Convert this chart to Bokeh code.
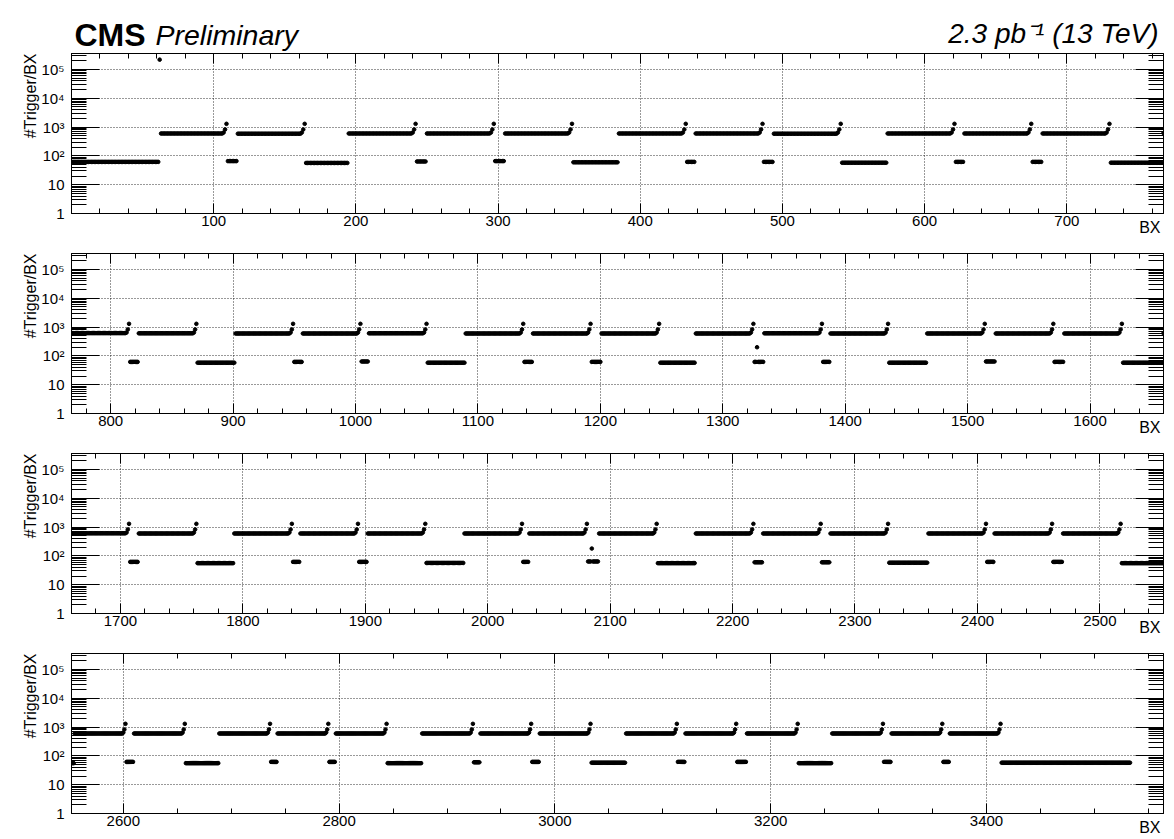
import math
from bokeh.plotting import figure
from bokeh.models import (Range1d, FixedTicker, Label, ColumnDataSource, LogAxis,
                          LinearAxis, CustomJSTickFormatter, Title)
from bokeh.layouts import column
from bokeh.embed import file_html
from bokeh.resources import INLINE

FONT = "Liberation Sans"

# ---------------- data ----------------
panel_lo = [0, 768, 1660, 2552]
panel_hi = [768, 1660, 2552, 3564]
panel_major = [
    [100, 200, 300, 400, 500, 600, 700],
    [800, 900, 1000, 1100, 1200, 1300, 1400, 1500, 1600],
    [1700, 1800, 1900, 2000, 2100, 2200, 2300, 2400, 2500],
    [2600, 2800, 3000, 3200, 3400],
]
panel_minor_step = [20, 20, 20, 50]

# first BX of every colliding-bunch train
train_first = [62, 117, 195, 250, 305, 385, 439, 494, 574, 628, 683,
               768, 823, 902, 957, 1011, 1090, 1145, 1201, 1278, 1334, 1388,
               1467, 1523, 1579,
               1660, 1715, 1793, 1847, 1902, 1981, 2034, 2091, 2170, 2225, 2280,
               2360, 2414, 2470,
               2555, 2610, 2689, 2743, 2797, 2877, 2931, 2986, 3066, 3121, 3178,
               3257, 3312, 3366]
train_len = 48
# plateau level of each train (#Trigger/BX)
train_level = [600, 590, 600, 600, 600, 600, 600, 590, 600, 600, 600,
               620, 610, 600, 600, 610, 600, 600, 600, 600, 610, 600,
               600, 600, 600,
               610, 600, 600, 600, 600, 600, 600, 600, 600, 600, 600,
               600, 600, 600,
               600, 600, 600, 600, 600, 600, 600, 600, 600, 600, 600,
               600, 600, 600]
# last three bunches of each train rise
train_tail = [650, 830, 1300]
# level of the empty BX before the first train and after each train
gap_level = [62,
             66, 57, 64, 66, 60, 62, 62, 58, 62, 62, 58,
             62, 58, 62, 64, 58, 62, 62, 58, 62, 62, 58,
             64, 62, 58,
             62, 56, 62, 62, 57, 62, 64, 56, 60, 60, 58,
             62, 62, 56,
             62, 56, 62, 62, 56, 60, 62, 58, 62, 62, 56,
             62, 62, 58]
noise_last_bx = 3533
spike_bx = [62, 1328, 2085]
spike_val = [2.2e5, 200, 180]

y_lo, y_hi = 1, 3.6e5
decades = [1, 10, 100, 1000, 10000, 100000]
decade_text = ["1", "10", "10\u00b2", "10\u00b3", "10\u2074", "10\u2075"]

# ---------------- build the per-BX series from the table ----------------
bx, val = [], []
prev_end = 0
for i, first in enumerate(train_first):
    for b in range(prev_end + 1, first):
        if b not in spike_bx:
            bx.append(b); val.append(gap_level[i])
    for k in range(train_len):
        b = first + k
        if b in spike_bx:
            continue
        t = k - (train_len - len(train_tail))
        bx.append(b)
        val.append(train_tail[t] if t >= 0 else train_level[i])
    prev_end = first + train_len - 1
for b in range(prev_end + 1, noise_last_bx + 1):
    if b not in spike_bx:
        bx.append(b); val.append(gap_level[-1])
bx += spike_bx
val += spike_val

y_minor = [k * 10 ** n for n in range(6) for k in range(2, 10) if k * 10 ** n <= y_hi]
blank = CustomJSTickFormatter(code="return ''")

W = 1174
LEFT, RIGHT = 71, 11
FRAME_W = W - LEFT - RIGHT
FRAME_H = 160

# ---------------- header with the CMS texts ----------------
HEAD_H = 52
head = figure(frame_width=FRAME_W, frame_height=HEAD_H, x_range=Range1d(LEFT, W - RIGHT),
              y_range=Range1d(HEAD_H, 0), output_backend="svg", toolbar_location=None,
              x_axis_location=None, y_axis_location=None,
              min_border_left=LEFT, min_border_right=RIGHT, min_border_top=0,
              min_border_bottom=0)
head.outline_line_color = None
head.grid.visible = False
head.add_layout(Label(x=74, y=34, text="CMS", text_align="left", text_baseline="alphabetic",
                      text_font=FONT, text_font_size="32px", text_font_style="bold",
                      text_color="black"))
head.add_layout(Label(x=155, y=34, text="Preliminary", text_align="left",
                      text_baseline="alphabetic", text_font=FONT, text_font_size="28.5px",
                      text_font_style="italic", text_color="black"))
head.add_layout(Label(x=1158, y=33, text="2.3 pb\u207b\u00b9 (13 TeV)", text_align="right",
                      text_baseline="alphabetic", text_font=FONT, text_font_size="28px",
                      text_font_style="italic", text_color="black"))

figs = [head]
for j in range(4):
    lo, hi = panel_lo[j], panel_hi[j]
    top = 1 if j == 0 else 13
    bottom = 26 if j == 3 else 27
    p = figure(frame_width=FRAME_W, frame_height=FRAME_H,
               x_range=Range1d(lo, hi), y_range=Range1d(y_lo, y_hi),
               y_axis_type="log", output_backend="svg", toolbar_location=None,
               min_border_left=LEFT, min_border_right=RIGHT,
               min_border_top=top, min_border_bottom=bottom)
    p.background_fill_color = "white"
    p.border_fill_color = "white"
    p.outline_line_color = "black"
    p.outline_line_width = 1

    step = panel_minor_step[j]
    majors = panel_major[j]
    minors = [v for v in range(lo - lo % step, hi + 1, step) if v not in majors and lo <= v <= hi]
    xt = FixedTicker(ticks=majors, minor_ticks=minors)
    yt = FixedTicker(ticks=decades, minor_ticks=y_minor)

    xa = p.xaxis[0]
    xa.ticker = xt
    xa.major_tick_in = 10
    xa.major_tick_out = 0
    xa.minor_tick_in = 5
    xa.minor_tick_out = 0
    xa.major_label_standoff = 2
    xa.major_label_text_font = FONT
    xa.major_label_text_font_size = "15px"
    xa.major_label_text_color = "black"
    xa.axis_line_color = "black"

    ya = p.yaxis[0]
    ya.ticker = yt
    ya.major_label_overrides = {d: t for d, t in zip(decades, decade_text)}
    ya.major_tick_in = 28
    ya.major_tick_out = 0
    ya.minor_tick_in = 15
    ya.minor_tick_out = 0
    ya.major_label_standoff = 7
    ya.major_label_text_font = FONT
    ya.major_label_text_font_size = "15px"
    ya.major_label_text_color = "black"
    ya.axis_line_color = "black"

    # axis titles (ROOT style: placed at the high end of each axis)
    p.add_layout(Title(text="#Trigger/BX", align="right", vertical_align="bottom",
                       text_font=FONT, text_font_size="16px", text_font_style="normal",
                       text_color="black", standoff=0, offset=0), "left")
    p.add_layout(Title(text="BX", align="right", vertical_align="top",
                       text_font=FONT, text_font_size="16px", text_font_style="normal",
                       text_color="black", standoff=-20, offset=3), "below")

    ra = LogAxis(ticker=yt, formatter=blank, major_tick_in=28, major_tick_out=0,
                 minor_tick_in=15, minor_tick_out=0, major_label_standoff=0,
                 major_label_text_font_size="1px")
    p.add_layout(ra, "right")
    ta = LinearAxis(ticker=xt, formatter=blank, major_tick_in=10, major_tick_out=0,
                    minor_tick_in=5, minor_tick_out=0, major_label_standoff=0,
                    major_label_text_font_size="1px")
    p.add_layout(ta, "above")

    p.xgrid.ticker = FixedTicker(ticks=majors)
    p.ygrid.ticker = FixedTicker(ticks=decades)
    for g in (p.xgrid[0], p.ygrid[0]):
        g.grid_line_color = "black"
        g.grid_line_dash = "1 2"
        g.grid_line_alpha = 0.8
        g.grid_line_width = 1

    xs = [b for b in bx if lo <= b <= hi]
    ys = [v for b, v in zip(bx, val) if lo <= b <= hi]
    src = ColumnDataSource(dict(x=xs, y=ys))
    p.scatter("x", "y", source=src, size=3.6, color="black", marker="circle")
    figs.append(p)

layout = column(*figs, spacing=0)
open("out.html", "w").write(file_html(layout, INLINE))
